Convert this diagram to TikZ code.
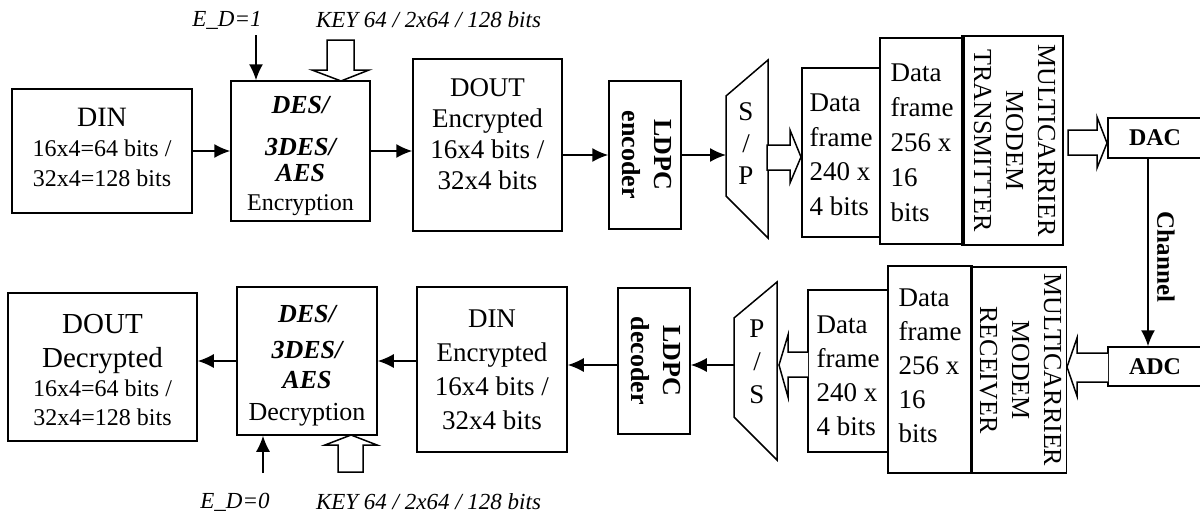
\documentclass[tikz,border=0pt]{standalone}
\usepackage{fontspec}
\setmainfont{Liberation Serif}
\usepackage{graphicx}
\usetikzlibrary{arrows.meta}
\newcommand\myfs[2]{\fontsize{#1}{#2}\selectfont}
\newcommand\rotcol[1]{\rotatebox{-90}{\begin{tabular}{@{}c@{}}#1\end{tabular}}}
\begin{document}
\begin{tikzpicture}[x=1pt,y=-1pt,
  box/.style={draw, line width=1.5pt, inner sep=0pt, align=center},
  lbox/.style={draw, line width=1.5pt, inner sep=0pt, align=left},
  arr/.style={line width=1.5pt, -{Latex[length=16pt,width=14pt]}},
  blk/.style={draw, line width=1.5pt, fill=white, line join=miter},
  lbl/.style={font=\myfs{23}{26}\itshape, inner sep=0pt},
]
\useasboundingbox (0,0) rectangle (1200,514);

% ---------------- top row ----------------
\node[box, minimum width=180pt, minimum height=124pt, font=\myfs{24}{30}] (din) at (102,151)
  {{\myfs{28}{30}DIN}\\16x4=64 bits /\\32x4=128 bits\rule[-8pt]{0pt}{0pt}};
\node[box, minimum width=139pt, minimum height=140pt, font=\myfs{24}{29}] (enc) at (300.5,151)
  {{\myfs{26}{29}\bfseries\itshape DES/}\rule{0pt}{28pt}\\[13pt]{\myfs{26}{29}\bfseries\itshape 3DES/}\\[-3pt]{\myfs{26}{29}\bfseries\itshape AES}\\Encryption};
\node[box, minimum width=149pt, minimum height=172pt, font=\myfs{27}{31}, text depth=22pt] (dout1) at (487.5,145)
  {DOUT\\Encrypted\\16x4 bits /\\32x4 bits};
\node[box, minimum width=72pt, minimum height=148pt, font=\myfs{26}{32}\bfseries] (ldpce) at (645,155)
  {\rotcol{LDPC\\encoder}};
\coordinate (spA) at (726,96);
\coordinate (spB) at (768,60);
\coordinate (spC) at (768,238);
\coordinate (spD) at (726,196);
\draw[line width=1.5pt, line join=miter] (spA) -- (spB) -- (spC) -- (spD) -- cycle;
\node[font=\myfs{27}{32}, align=center, inner sep=0pt] (sptxt) at (746,144) {S\\/\\P};
\node[lbox, minimum width=78pt, minimum height=169pt, font=\myfs{27}{34.5}] (df1) at (841,152.5)
  {Data\rule{0pt}{22pt}\\frame\\240 x\\4 bits};
\node[lbox, minimum width=84pt, minimum height=206pt, font=\myfs{27}{35}] (df2) at (922,141)
  {Data\rule{0pt}{21pt}\\frame\\256 x\\16\\bits};
\node[box, minimum width=101pt, minimum height=209pt, font=\myfs{26}{32}] (tx) at (1012.5,140.5)
  {\rotcol{MULTICARRIER\\MODEM\\TRANSMITTER}};
\node[box, minimum width=94pt, minimum height=40pt, font=\myfs{24}{28}\bfseries] (dac) at (1155,138) {DAC};

\node[lbl] (ed1) at (227,20) {E\_D=1};
\node[lbl] (key1) at (428.5,20) {KEY 64 / 2x64 / 128 bits};
\coordinate (ed1in) at (256,35);

% ---------------- bottom row ----------------
\node[box, minimum width=94pt, minimum height=39pt, font=\myfs{24}{28}\bfseries] (adc) at (1155,366.5) {ADC};
\node[box, minimum width=93pt, minimum height=206pt, font=\myfs{26}{32}] (rx) at (1018.5,370)
  {\rotcol{MULTICARRIER\\MODEM\\RECEIVER}};
\node[lbox, minimum width=84pt, minimum height=207pt, font=\myfs{27}{34}] (df2b) at (930,369.5)
  {Data\\frame\\256 x\\16\\bits\rule[-8pt]{0pt}{0pt}};
\node[lbox, minimum width=80pt, minimum height=162pt, font=\myfs{27}{34}] (df1b) at (848,371)
  {Data\rule{0pt}{28pt}\\frame\\240 x\\4 bits};
\coordinate (psA) at (734,318);
\coordinate (psB) at (777,282);
\coordinate (psC) at (777,460);
\coordinate (psD) at (734,417);
\draw[line width=1.5pt, line join=miter] (psA) -- (psB) -- (psC) -- (psD) -- cycle;
\node[font=\myfs{27}{33}, align=center, inner sep=0pt] (pstxt) at (757,362) {P\\/\\S};
\coordinate (psL) at (734,365);
\node[box, minimum width=72pt, minimum height=146pt, font=\myfs{26}{32}\bfseries] (ldpcd) at (654,361)
  {\rotcol{LDPC\\decoder}};
\node[box, minimum width=150pt, minimum height=165pt, font=\myfs{27}{34}] (dinenc) at (492,369.5)
  {DIN\\Encrypted\\16x4 bits /\\32x4 bits};
\node[box, minimum width=140pt, minimum height=148pt, font=\myfs{26}{32}] (dec) at (307,361)
  {{\bfseries\itshape DES/}\rule{0pt}{26pt}\\[4pt]{\bfseries\itshape 3DES/}\\[-2pt]{\bfseries\itshape AES}\\Decryption};
\node[box, minimum width=189pt, minimum height=148pt, font=\myfs{24}{29}] (doutd) at (102.5,367)
  {{\myfs{29}{33}DOUT}\rule{0pt}{26pt}\\[5pt]{\myfs{29}{33}Decrypted}\\16x4=64 bits /\\32x4=128 bits};

\node[lbl] (ed0) at (235,502) {E\_D=0};
\node[lbl] (key0) at (428.5,502) {KEY 64 / 2x64 / 128 bits};
\coordinate (ed0in) at (263,473);

\node[font=\myfs{25}{28}\bfseries, rotate=-90, inner sep=0pt] (chl) at (1166,257) {Channel};

% ---------------- connectors ----------------
\draw[arr] (din.east) -- (din.east -| enc.west);
\draw[arr] (enc.east) -- (enc.east -| dout1.west);
\draw[arr] (ldpce.west -| dout1.east) -- (ldpce.west);
\draw[arr] (ldpce.east) -- (ldpce.east -| spA);
\draw[arr] (ed1in) -- (ed1in |- enc.north);

\draw[arr] ([xshift=-7pt]dac.south) -- ([xshift=-7pt]adc.north);

\draw[arr] (psL) -- (psL -| ldpcd.east);
\draw[arr] (ldpcd.west |- psL) -- (psL -| dinenc.east);
\draw[arr] (dec.east -| dinenc.west) -- (dec.east);
\draw[arr] (dec.west) -- (dec.west -| doutd.east);
\draw[arr] (ed0in) -- (ed0in |- dec.south);

% block arrows
\draw[blk] (327,40) -- (354,40) -- (354,70) -- (369,70) -- (341,81) -- (312,70) -- (327,70) -- cycle;
\draw[blk] (338,472) -- (338,445) -- (325,445) -- (351,435) -- (377,445) -- (363,445) -- (363,472) -- cycle;
\draw[blk] (767,145) -- (790,145) -- (790,130) -- (801,157) -- (790,183) -- (790,170) -- (767,170) -- cycle;
\draw[blk] (1068,130) -- (1097,130) -- (1097,117) -- (1107,143) -- (1097,168) -- (1097,155) -- (1068,155) -- cycle;
\draw[blk] (1108,353) -- (1077,353) -- (1077,338) -- (1067,367) -- (1077,396) -- (1077,382) -- (1108,382);
\draw[blk] (808,352) -- (788,352) -- (788,335) -- (779,365) -- (788,397) -- (788,377) -- (808,377);
\end{tikzpicture}
\end{document}
